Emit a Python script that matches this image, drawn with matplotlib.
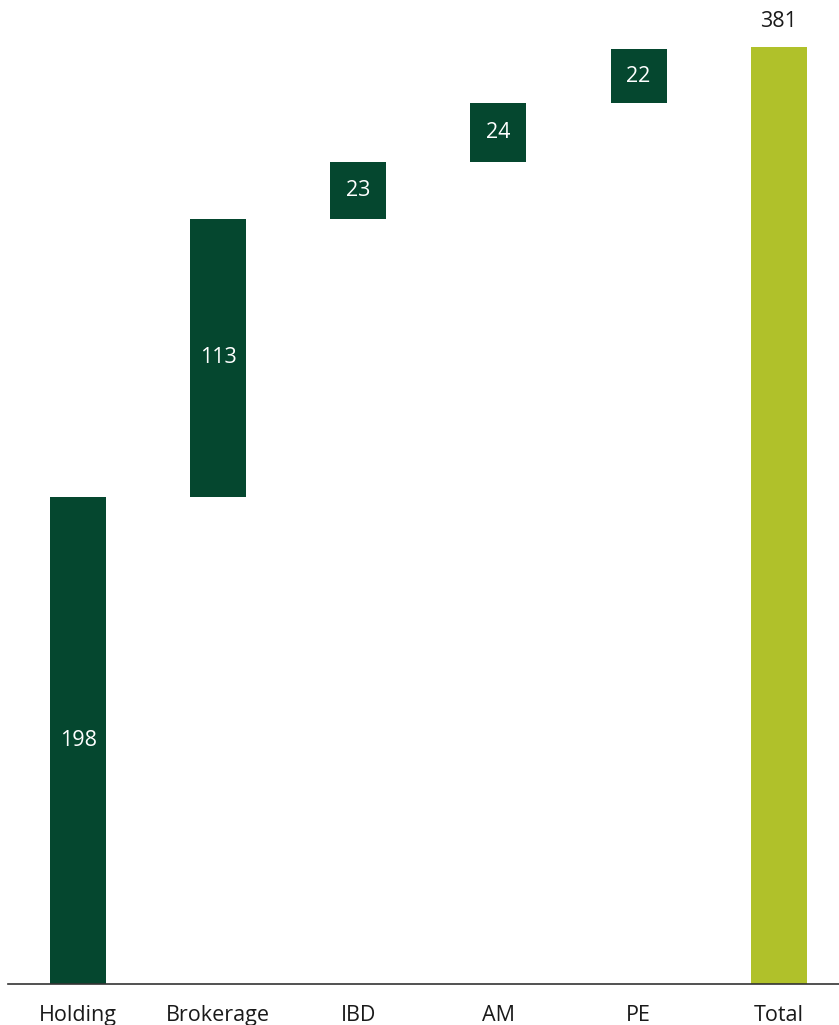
import numpy as np
import matplotlib.pyplot as plt

# Données du graphique en cascade
categories = ['Holding', 'Brokerage', 'IBD', 'AM', 'PE', 'Total']
values = [198, 113, 23, 24, 22, 381]

dark_green = '#05472F'
lime = '#B0C12A'

plt.rcParams['font.family'] = ['Open Sans', 'DejaVu Sans']

fig = plt.figure(figsize=(8.39, 10.25), dpi=100)
ax = fig.add_axes([8 / 839, 41 / 1025, 831 / 839, 984 / 1025])

# bases des barres : cumul des étapes, la barre Total part de zéro
steps = values[:-1]
bottoms = list(np.concatenate([[0], np.cumsum(steps)[:-1]])) + [0]
colors = [dark_green] * len(steps) + [lime]

x = np.arange(len(categories))
ax.bar(x, values, bottom=bottoms, width=0.4, color=colors)

for i, (v, b) in enumerate(zip(values, bottoms)):
    if i == len(values) - 1:
        ax.text(i, b + v + 6, str(v), ha='center', va='bottom',
                fontsize=15.5, color='#1a1a1a')
    else:
        ax.text(i, b + v / 2, str(v), ha='center', va='center',
                fontsize=15.5, color='white')

ax.set_xlim(-0.5, 5.43)
ax.set_ylim(0, 400)
ax.set_xticks(x)
ax.set_xticklabels(categories, fontsize=15.5, color='#1a1a1a')
ax.tick_params(axis='x', length=0, pad=15)
ax.set_yticks([])
for s in ['top', 'right', 'left']:
    ax.spines[s].set_visible(False)
ax.spines['bottom'].set_color('#333333')
ax.spines['bottom'].set_linewidth(1.2)

fig.savefig('out.png', dpi=100)
